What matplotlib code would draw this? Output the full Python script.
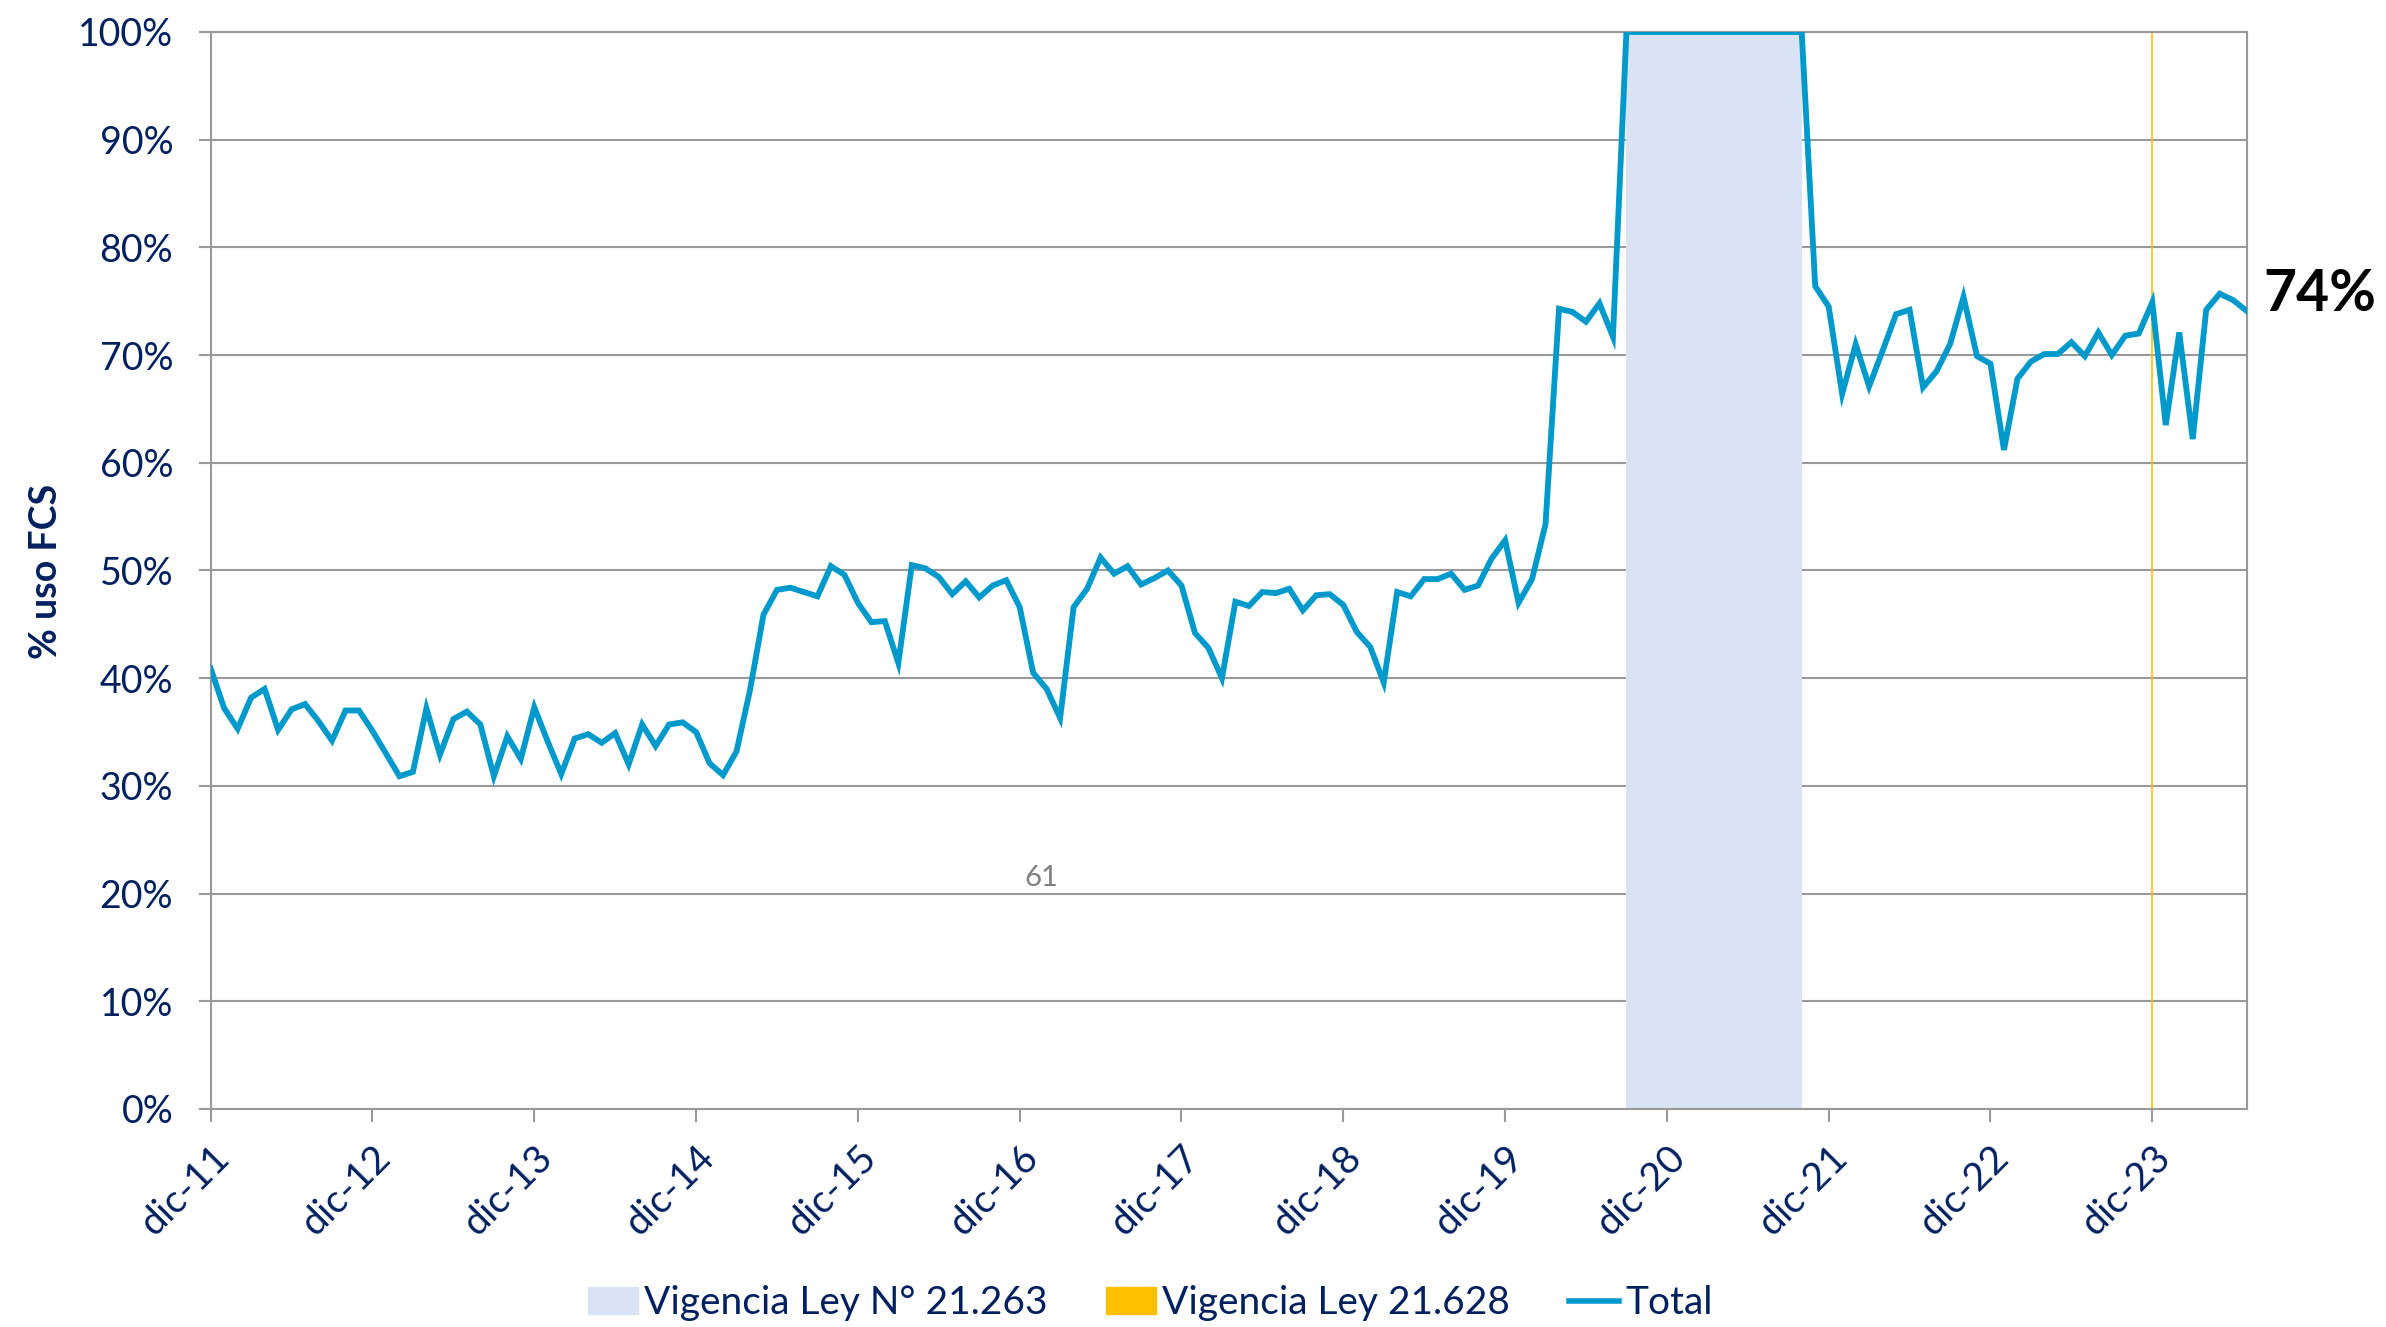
import matplotlib
matplotlib.use("Agg")
import matplotlib.pyplot as plt
from matplotlib.patches import Patch
from matplotlib.lines import Line2D
import numpy as np

# % de uso del FCS, mensual desde dic-11 hasta jul-24
uso_fcs = [
    40.9, 37.2, 35.3, 38.2, 39.0, 35.2, 37.1, 37.6, 36.0, 34.2, 37.0, 37.0,
    35.1, 33.0, 30.9, 31.3, 37.2, 32.9, 36.2, 36.9, 35.7, 30.9, 34.6, 32.5,
    37.3, 34.1, 31.1, 34.4, 34.8, 34.0, 34.9, 32.0, 35.7, 33.7, 35.7, 35.9,
    35.0, 32.1, 31.0, 33.2, 38.9, 45.9, 48.2, 48.4, 48.0, 47.6, 50.4, 49.6,
    47.0, 45.2, 45.3, 41.4, 50.5, 50.2, 49.4, 47.8, 49.0, 47.5, 48.6, 49.1,
    46.6, 40.5, 39.0, 36.3, 46.6, 48.3, 51.2, 49.7, 50.4, 48.7, 49.3, 50.0,
    48.6, 44.2, 42.8, 40.0, 47.1, 46.7, 48.0, 47.9, 48.3, 46.3, 47.7, 47.8,
    46.8, 44.3, 42.9, 39.6, 48.0, 47.6, 49.2, 49.2, 49.7, 48.2, 48.6, 51.1,
    52.8, 47.0, 49.2, 54.3, 74.3, 74.0, 73.1, 74.8, 71.7, 100, 100, 100,
    100, 100, 100, 100, 100, 100, 100, 100, 100, 100, 100, 76.4, 74.5, 66.4,
    71.0, 67.1, 70.4, 73.8, 74.2, 67.0, 68.5, 71.0, 75.4, 69.9, 69.2, 61.2,
    67.8, 69.4, 70.1, 70.1, 71.2, 69.9, 72.1, 70.0, 71.8, 72.0, 74.9, 63.5,
    72.1, 62.2, 74.2, 75.7, 75.1, 74.1,
]
etiquetas_x = ["dic-11", "dic-12", "dic-13", "dic-14", "dic-15", "dic-16", "dic-17",
               "dic-18", "dic-19", "dic-20", "dic-21", "dic-22", "dic-23"]
ley_21263 = (105, 118)   # meses de vigencia (indice)
ley_21628 = 144          # inicio vigencia
ultimo = "74%"

AZUL = "#0099CC"
NAVY = "#002060"
GRIS = "#999999"

plt.rcParams["font.family"] = ["Lato", "DejaVu Sans"]

fig = plt.figure(figsize=(23.86, 13.27), dpi=100)
ax = fig.add_axes([0.0883, 0.1643, 0.8533, 0.8116])

x = np.arange(len(uso_fcs))
ax.axvspan(ley_21263[0], ley_21263[1], color="#DAE3F3", zorder=1, lw=0)
ax.axvline(ley_21628, color="#FFC000", lw=1.2, zorder=2)
ax.plot(x, uso_fcs, color=AZUL, lw=4.2, zorder=3, solid_joinstyle="miter")

ax.set_xlim(0, len(uso_fcs) - 1)
ax.set_ylim(0, 100)
ax.set_yticks(np.arange(0, 101, 10))
ax.set_yticklabels([f"{v}%" for v in range(0, 101, 10)])
ax.set_xticks(np.arange(0, 12 * len(etiquetas_x), 12))
ax.set_xticklabels(etiquetas_x, rotation=45, ha="right", va="top", rotation_mode="anchor")

ax.set_axisbelow(True)
ax.grid(axis="y", color=GRIS, lw=1.5)
for s in ax.spines.values():
    s.set_color(GRIS)
    s.set_linewidth(1.5)
ax.tick_params(axis="both", colors=GRIS, labelcolor=NAVY, length=9, width=1.5)
ax.tick_params(axis="y", pad=18, labelsize=27)
ax.tick_params(axis="x", pad=13, labelsize=28)

fig.text(0.0191, 0.5697, "% uso FCS", rotation=90, ha="center", va="center",
         fontsize=27, fontweight="bold", color=NAVY)

ax.annotate(ultimo, xy=(x[-1], uso_fcs[-1]), xytext=(12, 0), textcoords="offset points",
            ha="left", va="baseline", fontsize=41, fontweight="bold", color="black",
            annotation_clip=False)

ax.text(61.6, 20.7, "61", ha="center", va="baseline", fontsize=21, color="#808080")

handles = [Patch(color="#DAE3F3"), Patch(color="#FFC000"), Line2D([], [], color=AZUL, lw=4)]
fig.legend(handles, ["Vigencia Ley N° 21.263", "Vigencia Ley 21.628", "Total"],
           loc="center", bbox_to_anchor=(0.482, 0.018), ncol=3, frameon=False,
           fontsize=28, handlelength=1.3, handleheight=0.7, handletextpad=0.15,
           columnspacing=1.5, labelcolor=NAVY)

fig.savefig("out.png", dpi=100)
